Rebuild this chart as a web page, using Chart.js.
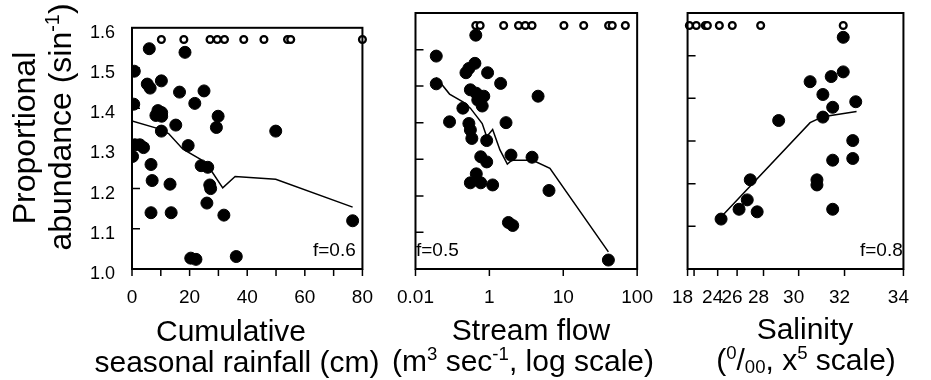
<!DOCTYPE html>
<html>
<head>
<meta charset="utf-8">
<script src="https://cdn.jsdelivr.net/npm/chart.js@4.4.1/dist/chart.umd.min.js"></script>
<style>
  html, body { margin: 0; padding: 0; background: #fff; }
  #wrap { position: relative; width: 931px; height: 380px; overflow: hidden; }
  canvas { position: absolute; top: 0; }
</style>
</head>
<body>
<div id="wrap">
  <canvas id="c1" width="390" height="380" style="left:0px"></canvas>
  <canvas id="c2" width="290" height="380" style="left:380px"></canvas>
  <canvas id="c3" width="271" height="380" style="left:660px"></canvas>
</div>
<script>
// sites with 100 % -> arcsine value pi/2 (open circles)
const OPEN_Y = Math.PI / 2;

// panel 1 : cumulative seasonal rainfall (cm)
const rainX = [6, 18.4, 0.8, 5.3, 6.3, 10.2, 16.5, 25, 21.8, 0.6, 9, 10.3, 8.3, 10.3, 29.9, 29.3, 15.2, 10.2, 49.9, 1,
  2.7, 4, 0.2, 19.5, 6.6, 24, 26.3, 7, 13.2, 27, 27.3, 26, 6.6, 13.6, 31.9, 20.4, 22.2, 36.2, 76.6];
const rainY = [1.548, 1.539, 1.492, 1.46, 1.45, 1.468, 1.44, 1.443, 1.412, 1.41, 1.394, 1.389, 1.382, 1.38, 1.38, 1.352, 1.358, 1.343, 1.343, 1.309,
  1.309, 1.302, 1.28, 1.307, 1.26, 1.257, 1.253, 1.22, 1.211, 1.209, 1.2, 1.164, 1.14, 1.14, 1.134, 1.027, 1.024, 1.031, 1.12];
const rainOpenX = [10.2, 18, 27.1, 29.6, 32.1, 38.8, 45.8, 54, 55.1, 80];
const rainLineX = [0, 8.2, 12.7, 17.7, 23.8, 27.2, 31.5, 35.8, 49.9, 76.6];
const rainLineY = [1.368, 1.351, 1.337, 1.298, 1.273, 1.248, 1.202, 1.23, 1.223, 1.154];
const rainTicks = [0, 10, 20, 30, 40, 50, 60, 70, 80];

// panel 2 : stream flow (m3/s, log scale)
const flowX = [0.191, 0.191, 0.289, 0.438, 0.482, 0.528, 0.637, 0.655, 0.946, 1.42, 4.56, 0.553, 0.665, 0.84, 0.697, 0.80,
  0.528, 0.553, 0.579, 1.68, 0.92, 0.764, 0.92, 1.96, 3.78, 0.665, 0.553, 0.764, 1.107, 6.41, 1.81, 2.07, 40.8];
const flowY = [1.499, 1.434, 1.345, 1.377, 1.46, 1.47, 1.482, 1.548, 1.46, 1.435, 1.405, 1.42, 1.412, 1.405, 1.396, 1.382,
  1.341, 1.326, 1.306, 1.343, 1.301, 1.263, 1.251, 1.267, 1.262, 1.223, 1.202, 1.202, 1.197, 1.184, 1.109, 1.102, 1.021];
const flowOpenX = [0.655, 0.75, 1.56, 2.48, 3.06, 3.78, 10.2, 18.9, 41.1, 46, 69.2];
const flowLineX = [0.191, 0.289, 0.438, 0.553, 0.80, 0.92, 1.107, 1.39, 1.75, 2.02, 3.86, 6.6, 40.8];
const flowLineY = [1.449, 1.41, 1.392, 1.377, 1.341, 1.31, 1.327, 1.279, 1.246, 1.255, 1.255, 1.236, 1.04];
const flowTicks = [0.1, 1, 10, 100];
const flowTickLabels = ['0.01', '1', '10', '100'];

// panel 3 : salinity (x^5 scale)
const salX = [31.95, 31.95, 30.55, 31.47, 31.12, 32.42, 31.53, 31.12, 28.93, 32.31, 32.31, 31.53, 30.86, 30.86, 31.53,
  27.07, 26.84, 26.17, 27.57, 24.4];
const salY = [1.543, 1.462, 1.439, 1.451, 1.409, 1.392, 1.379, 1.356, 1.348, 1.301, 1.259, 1.255, 1.209, 1.197, 1.14,
  1.209, 1.162, 1.14, 1.134, 1.117];
const salOpenX = [18.65, 20.53, 22.26, 22.59, 24.2, 25.56, 27.81, 31.95];
const salLineX = [24.4, 30.55, 31.12, 32.45];
const salLineY = [1.122, 1.343, 1.357, 1.369];
const salTicks = [18, 20, 24, 26, 28, 30, 32, 34];
const salTickLabels = ['18', '', '24', '26', '28', '30', '32', '34'];

// y axis ticks
const yTicks = [1.0, 1.1, 1.2, 1.3, 1.4, 1.5, 1.6];
const yTicksFlow = [1.0, 1.086, 1.171, 1.257, 1.343, 1.429, 1.514, 1.6];

const FONT = '"Liberation Sans", Arial, sans-serif';
const pow5 = s => Math.pow(s, 5);
const same = v => v;

function pts(xs, ys, tx) {
  return xs.map((x, i) => ({ x: tx(x), y: ys[i] }));
}

function makeSets(fx, fy, ox, lx, ly, tx) {
  return [
    { data: pts(lx, ly, tx), showLine: true, borderColor: '#000', borderWidth: 1.5, pointRadius: 0, clip: 0 },
    { data: pts(fx, fy, tx), pointRadius: 6, borderWidth: 1, backgroundColor: '#000', borderColor: '#000', clip: 0 },
    { data: ox.map(x => ({ x: tx(x), y: OPEN_Y })), pointRadius: 3.4, borderWidth: 2.3,
      backgroundColor: '#fff', borderColor: '#000', clip: false }
  ];
}

// text with super/subscripts
function drawRich(ctx, parts, x, y, size, align) {
  let w = 0;
  const m = parts.map(([t, k]) => {
    const s = k ? size * 0.62 : size;
    ctx.font = s + 'px ' + FONT;
    const wd = ctx.measureText(t).width;
    w += wd;
    return { t, k, s, wd };
  });
  let cx = align === 'left' ? x : x - w / 2;
  ctx.textAlign = 'left';
  ctx.textBaseline = 'alphabetic';
  m.forEach(p => {
    ctx.font = p.s + 'px ' + FONT;
    const dy = p.k === 'sup' ? -size * 0.38 : p.k === 'sub' ? size * 0.1 : 0;
    ctx.fillText(p.t, cx, y + dy);
    cx += p.wd;
  });
}

const frame = {
  id: 'frame',
  afterDatasetsDraw(chart, args, opts) {
    const { ctx, chartArea: a, scales } = chart;
    ctx.save();
    ctx.strokeStyle = '#000';
    ctx.lineWidth = 2;
    ctx.strokeRect(a.left, a.top, a.right - a.left, a.bottom - a.top);
    ctx.lineWidth = 1.5;
    ctx.beginPath();
    scales.y.ticks.forEach(t => {
      const py = scales.y.getPixelForValue(t.value);
      if (py <= a.top + 2 || py >= a.bottom - 2) return;
      ctx.moveTo(a.left, py);
      ctx.lineTo(a.left + 8, py);
    });
    scales.x.ticks.forEach(t => {
      const px = scales.x.getPixelForValue(t.value);
      ctx.moveTo(px, a.bottom);
      ctx.lineTo(px, a.bottom + 7);
    });
    ctx.stroke();
    ctx.fillStyle = '#000';
    (opts.texts || []).forEach(tx => {
      ctx.save();
      ctx.translate(tx.x - opts.left, tx.y);
      if (tx.rot) ctx.rotate(-Math.PI / 2);
      drawRich(ctx, tx.parts, 0, 0, tx.size, tx.align);
      ctx.restore();
    });
    ctx.restore();
  }
};

function makePanel(id, left, width, plotLeft, plotRight, xScale, yScale, datasets, texts) {
  const tickFont = { family: FONT, size: 19 };
  new Chart(document.getElementById(id), {
    type: 'scatter',
    data: { datasets },
    options: {
      responsive: false,
      animation: false,
      devicePixelRatio: 1,
      layout: { autoPadding: false, padding: { left: 0, top: 13, right: width - (plotRight - left), bottom: 0 } },
      plugins: { legend: { display: false }, tooltip: { enabled: false }, frame: { texts, left } },
      scales: {
        x: Object.assign({
          grid: { display: false, drawTicks: false },
          border: { display: false },
          afterFit: s => { s.height = 111; }
        }, xScale, {
          ticks: Object.assign({ autoSkip: false, maxRotation: 0, minRotation: 0, padding: 17, color: '#000', font: tickFont }, xScale.ticks)
        }),
        y: Object.assign({
          min: 1, max: 1.6,
          grid: { display: false, drawTicks: false },
          border: { display: false },
          afterFit: s => { s.width = plotLeft - left; }
        }, yScale)
      }
    },
    plugins: [frame]
  });
}

// panel 1
makePanel('c1', 0, 390, 132, 372,
  {
    type: 'linear', min: 0, max: 80,
    afterBuildTicks: s => { s.ticks = rainTicks.map(v => ({ value: v })); },
    ticks: { callback: v => (v % 20 === 0 ? String(v) : '') }
  },
  {
    afterBuildTicks: s => { s.ticks = yTicks.map(v => ({ value: v })); },
    ticks: { padding: 17, labelOffset: 5, color: '#000', font: { family: FONT, size: 18 }, callback: v => v.toFixed(1) }
  },
  makeSets(rainX, rainY, rainOpenX, rainLineX, rainLineY, same),
  [
    { parts: [['Proportional']], x: 35, y: 138, size: 32, rot: true },
    { parts: [['abundance (sin'], ['-1', 'sup'], [')']], x: 71, y: 127, size: 32, rot: true },
    { parts: [['Cumulative']], x: 231, y: 341, size: 30 },
    { parts: [['seasonal rainfall (cm)']], x: 237, y: 372, size: 30 },
    { parts: [['f=0.6']], x: 313, y: 256, size: 19, align: 'left' }
  ]
);

// panel 2
makePanel('c2', 380, 290, 404, 654,
  {
    type: 'logarithmic', min: 0.1, max: 100,
    afterBuildTicks: s => { s.ticks = flowTicks.map(v => ({ value: v })); },
    ticks: { callback: (v, i) => flowTickLabels[i] }
  },
  {
    afterBuildTicks: s => { s.ticks = yTicksFlow.map(v => ({ value: v })); },
    ticks: { display: false }
  },
  makeSets(flowX, flowY, flowOpenX, flowLineX, flowLineY, same),
  [
    { parts: [['Stream flow']], x: 531, y: 340, size: 30 },
    { parts: [['(m'], ['3', 'sup'], [' sec'], ['-1', 'sup'], [', log scale)']], x: 523, y: 371, size: 30 },
    { parts: [['f=0.5']], x: 416, y: 256, size: 19, align: 'left' }
  ]
);

// panel 3
makePanel('c3', 660, 271, 682, 922,
  {
    type: 'linear', min: pow5(18), max: pow5(34),
    afterBuildTicks: s => { s.ticks = salTicks.map(v => ({ value: pow5(v) })); },
    ticks: { labelOffset: -5, callback: (v, i) => salTickLabels[i] }
  },
  {
    afterBuildTicks: s => { s.ticks = yTicks.map(v => ({ value: v })); },
    ticks: { display: false }
  },
  makeSets(salX, salY, salOpenX, salLineX, salLineY, pow5),
  [
    { parts: [['Salinity']], x: 805, y: 339, size: 30 },
    { parts: [['('], ['0', 'sup'], ['/'], ['00', 'sub'], [', x'], ['5', 'sup'], [' scale)']], x: 806, y: 370, size: 30 },
    { parts: [['f=0.8']], x: 860, y: 256, size: 19, align: 'left' }
  ]
);
</script>
</body>
</html>
